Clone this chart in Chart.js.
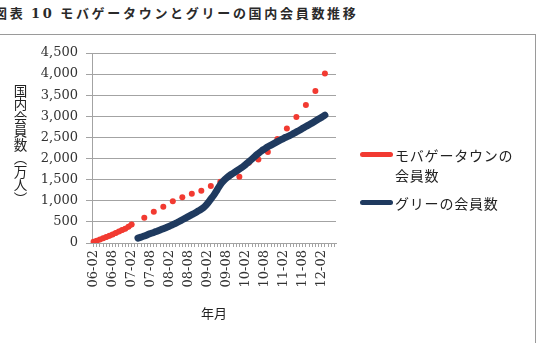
<!DOCTYPE html>
<html><head><meta charset="utf-8">
<script src="https://cdn.jsdelivr.net/npm/chart.js@4/dist/chart.umd.min.js"></script>
<style>
html,body{margin:0;padding:0;background:#fff;width:538px;height:343px;overflow:hidden;position:relative;}
#title{position:absolute;left:-6px;top:3px;font-family:"Noto Sans CJK JP";font-weight:700;font-size:13px;letter-spacing:2.7px;color:#2a2a2a;white-space:nowrap;}
#title .num{font-family:"DejaVu Serif";}
#box{position:absolute;left:-1px;top:34px;width:537px;height:320px;border:1px solid #9a9a9a;box-sizing:border-box;}
#c{position:absolute;left:0;top:0;}
#ytitle{position:absolute;left:13px;top:84px;writing-mode:vertical-rl;font-family:"Noto Sans CJK JP";font-size:13.5px;line-height:1;color:#222;}
.leg{position:absolute;font-family:"Noto Sans CJK JP";font-size:14px;letter-spacing:0.8px;color:#222;line-height:20px;}
.sw{position:absolute;width:33px;height:5px;border-radius:3px;}
</style></head>
<body>
<div id="title">図表 <span class="num">10</span> モバゲータウンとグリーの国内会員数推移</div>
<div id="box"></div>
<canvas id="c" width="538" height="343"></canvas>
<div id="ytitle">国内会員数（万人）</div>
<div class="sw" style="left:360px;top:152px;background:#f23a31;"></div>
<div class="leg" style="left:395px;top:145px;">モバゲータウンの<br>会員数</div>
<div class="sw" style="left:360px;top:200px;background:#1f3a5f;"></div>
<div class="leg" style="left:395px;top:193px;">グリーの会員数</div>
<script>
const months = ["06-02","06-03","06-04","06-05","06-06","06-07","06-08","06-09","06-10","06-11","06-12",
"07-01","07-02","07-03","07-04","07-05","07-06","07-07","07-08","07-09","07-10","07-11","07-12",
"08-01","08-02","08-03","08-04","08-05","08-06","08-07","08-08","08-09","08-10","08-11","08-12",
"09-01","09-02","09-03","09-04","09-05","09-06","09-07","09-08","09-09","09-10","09-11","09-12",
"10-01","10-02","10-03","10-04","10-05","10-06","10-07","10-08","10-09","10-10","10-11","10-12",
"11-01","11-02","11-03","11-04","11-05","11-06","11-07","11-08","11-09","11-10","11-11","11-12",
"12-01","12-02","12-03","12-04","12-05","12-06"];
const tickLabels = ["06-02","06-08","07-02","07-08","08-02","08-08","09-02","09-08","10-02","10-08","11-02","11-08","12-02"];
const mobage = [30,55,80,110,140,170,200,235,270,305,340,385,440,null,null,null,600,null,null,742,null,null,860,null,null,988,null,null,1083,null,null,1169,null,null,1240,null,null,1351,null,null,1453,null,null,1590,null,null,1572,null,null,1900,null,null,1975,null,null,2157,null,null,2465,null,null,2709,null,null,2986,null,null,3271,null,null,3602,null,null,4012,null,null,null];
const gree = [null,null,null,null,null,null,null,null,null,null,null,null,null,null,
115,140,165,195,225,250,280,310,340,370,400,435,470,510,550,590,630,670,710,755,800,
860,940,1040,1140,1260,1380,1470,1540,1600,1650,1700,1750,1800,1860,1925,1990,2060,2120,2180,2230,2280,2320,2360,2400,2440,2480,2515,2550,2590,2630,2670,2715,2760,2800,2845,2890,2935,2980,3030,null,null,null];
const seriesNames = ["モバゲータウンの会員数","グリーの会員数"];

const grid = '#a3a3a3';
new Chart(document.getElementById('c'), {
  type: 'line',
  data: {
    labels: months,
    datasets: [
      {label: seriesNames[1], data: gree, borderColor:'#1f3a5f', backgroundColor:'#1f3a5f', borderWidth:7, pointRadius:0, borderCapStyle:'round', borderJoinStyle:'round', cubicInterpolationMode:'monotone', order:0, spanGaps:false},
      {label: seriesNames[0], data: mobage, borderColor:'#f23a31', backgroundColor:'#f23a31', borderWidth:5, pointRadius:3, pointBorderWidth:0, borderCapStyle:'round', borderJoinStyle:'round', cubicInterpolationMode:'monotone', order:1, spanGaps:false}
    ]
  },
  options: {
    responsive:false, animation:false, devicePixelRatio:1,
    layout:{padding:{left:0, top:53, right:202, bottom:0}},
    plugins:{legend:{display:false}, tooltip:{enabled:false}},
    scales:{
      x:{
        offset:true,
        afterFit: s => { s.height = 100; },
        grid:{drawOnChartArea:false, tickLength:4, color:grid, offset:false},
        border:{color:grid},
        ticks:{autoSkip:false, maxRotation:90, minRotation:90, padding:3, color:'#333',
          font:{family:'DejaVu Serif', size:13},
          callback:(v,i) => tickLabels.includes(months[i]) ? months[i] : ''},
        title:{display:true, text:'年月', color:'#222', font:{family:'Noto Sans CJK JP', size:13}, padding:{top:0,bottom:22}}
      },
      y:{
        min:0, max:4500,
        afterFit: s => { s.width = 92; },
        grid:{color:grid, tickLength:6},
        border:{color:grid},
        ticks:{stepSize:500, padding:8, color:'#333', font:{family:'DejaVu Serif', size:13}}
      }
    }
  }
});
</script>
</body></html>
